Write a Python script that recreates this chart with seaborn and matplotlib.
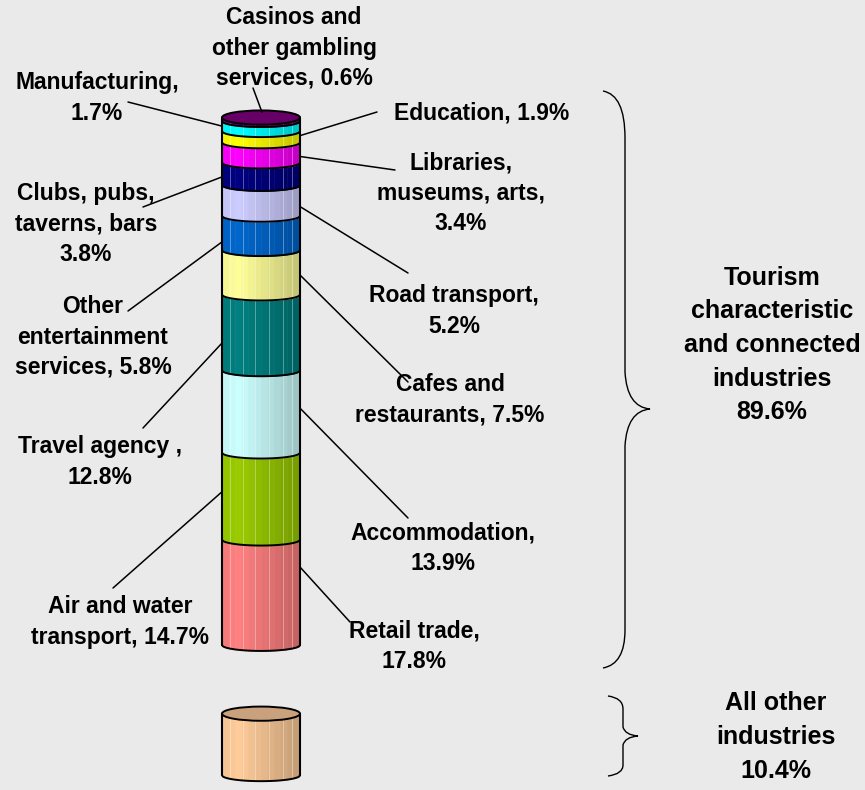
import numpy as np
import matplotlib
matplotlib.use("Agg")
import matplotlib.pyplot as plt
import matplotlib.colors as mcolors
from matplotlib.patches import Ellipse, ConnectionPatch, PathPatch
from matplotlib.path import Path
import seaborn as sns

# data, bottom of the column to the top
industries = ["Retail trade", "Air and water transport", "Accommodation", "Travel agency",
              "Cafes and restaurants", "Other entertainment services", "Road transport",
              "Clubs, pubs, taverns, bars", "Libraries, museums, arts", "Education",
              "Manufacturing", "Casinos and other gambling services"]
shares = [17.8, 14.7, 13.9, 12.8, 7.5, 5.8, 5.2, 3.8, 3.4, 1.9, 1.7, 0.6]
labels = ["Retail trade,\n17.8%", "Air and water\ntransport, 14.7%", "Accommodation,\n13.9%",
          "Travel agency ,\n12.8%", "Cafes and\nrestaurants, 7.5%",
          "Other\nentertainment\nservices, 5.8%", "Road transport,\n5.2%",
          "Clubs, pubs,\ntaverns, bars\n3.8%", "Libraries,\nmuseums, arts,\n3.4%",
          "Education, 1.9%", "Manufacturing,\n1.7%", "Casinos and\nother gambling\nservices, 0.6%"]
colors = ["#FF8080", "#99CC00", "#CCFFFF", "#008080", "#FFFF99", "#0066CC",
          "#CCCCFF", "#000080", "#FF00FF", "#FFFF00", "#00FFFF", "#800080"]
tourism_total = 89.6
other_share = 10.4
other_color = "#FFCC99"
group_labels = ["Tourism\ncharacteristic\nand connected\nindustries\n%.1f%%" % tourism_total,
                "All other\nindustries\n%.1f%%" % other_share]

# layout (pixels from top-left) for labels and leader lines
label_xy = [(414, 646), (120, 622), (443, 548), (100, 462), (450, 400), (93, 337),
            (454, 311), (86, 224), (461, 193), (482, 113), (97, 98), (294, 48)]
line_start = [(350, 622), (113, 588), (408, 518), (143, 428), (408, 382), (128, 311),
              (408, 273), (143, 207), (395, 170), (377, 112), (128, 102), (253, 88)]
attach_frac = [0.74, 0.55, 0.54, 0.36, 0.44, 0.24, 0.3, 0.36, 0.3, 0.6, 0.5, None]
attach_side = [1, -1, 1, -1, 1, -1, 1, -1, 1, 1, -1, 0]

W, H = 865, 790
XC, R = 261, 39          # column centre and radius (x in pixels)
DEPTH = 1.0              # ellipse half-height in % units
OTHER_BASE = -22.0

sns.set_theme(style="white", rc={"figure.facecolor": "#EAEAEA", "axes.facecolor": "#EAEAEA",
                                 "text.color": "black"})
plt.rcParams["font.family"] = ["Liberation Sans", "DejaVu Sans"]

fig = plt.figure(figsize=(W / 100, H / 100), dpi=100)
ax = fig.add_axes([0, 0, 1, 1])
ax.set_xlim(0, W)
ax.set_ylim((645 - H) / 5.92, 645 / 5.92)
ax.axis("off")

lay = fig.add_axes([0, 0, 1, 1], facecolor="none")
lay.set_xlim(0, W)
lay.set_ylim(H, 0)
lay.axis("off")


def arc(xs, level):
    return level - DEPTH * np.sqrt(np.clip(1 - ((xs - XC) / R) ** 2, 0, None))


def segment(lo, hi, color, n=12):
    edges = np.linspace(XC - R, XC + R, n + 1)
    base = np.array(mcolors.to_rgb(color))
    for i in range(n):
        xs = np.linspace(edges[i], edges[i + 1], 8)
        t = (i + 0.5) / n
        f = np.interp(t, [0, 0.2, 1], [0.95, 1.0, 0.76])
        c = np.clip(base * f, 0, 1)
        ax.fill_between(xs, arc(xs, lo), arc(xs, hi), color=c, lw=0.4, zorder=2)


def cylinder(base, values, cols, cap_color):
    tops = base + np.cumsum(values)
    bots = tops - np.array(values)
    for lo, hi, c in zip(bots, tops, cols):
        segment(lo, hi, c)
    xs = np.linspace(XC - R, XC + R, 100)
    for fx in [0.1, 0.27, 0.42, 0.6, 0.78, 0.9]:
        x = XC - R + 2 * R * fx
        ax.plot([x, x], [arc(np.array([x]), base)[0], tops[-1]], color="white",
                alpha=0.35, lw=0.7, zorder=2.5)
    for lvl in np.concatenate([[base], tops[:-1]]):
        ax.plot(xs, arc(xs, lvl), color="black", lw=1.4, zorder=3)
    ax.plot([XC - R, XC - R], [base, tops[-1]], color="black", lw=1.5, zorder=3)
    ax.plot([XC + R, XC + R], [base, tops[-1]], color="black", lw=1.5, zorder=3)
    ax.add_patch(Ellipse((XC, tops[-1]), 2 * R, 2.4 * DEPTH, facecolor=cap_color,
                         edgecolor="black", lw=1.4, zorder=4))
    return bots, tops


bots, tops = cylinder(0.0, shares, colors, "#660066")
cylinder(OTHER_BASE, [other_share], [other_color], "#C9A27D")

# labels and leader lines
for i, lab in enumerate(labels):
    tx, ty = label_xy[i]
    lay.text(tx, ty, lab, ha="center", va="center", fontsize=16.5, fontweight="bold",
             color="black", linespacing=1.4, zorder=6)
    if attach_side[i] == 0:
        end = (XC + 1, tops[-1] + 0.9)
    else:
        end = (XC + attach_side[i] * R, bots[i] + attach_frac[i] * shares[i])
    con = ConnectionPatch(xyA=line_start[i], coordsA=lay.transData, xyB=end,
                          coordsB=ax.transData, color="black", lw=1.1, zorder=5)
    fig.add_artist(con)

# braces
big = [(603, 91), (625, 95), (625, 138), (625, 372), (627, 407), (650, 409),
       (627, 411), (625, 446), (625, 630), (625, 664), (603, 668)]
small = [(608, 696), (623, 698), (623, 709), (623, 727), (625, 735), (638, 736),
         (625, 737), (623, 745), (623, 765), (623, 774), (608, 776)]
codes = [Path.MOVETO, Path.CURVE3, Path.CURVE3, Path.LINETO, Path.CURVE3, Path.CURVE3,
         Path.CURVE3, Path.CURVE3, Path.LINETO, Path.CURVE3, Path.CURVE3]
for pts in (big, small):
    lay.add_patch(PathPatch(Path(pts, codes), facecolor="none", edgecolor="black", lw=1.0))

lay.text(772, 345, group_labels[0], ha="center", va="center", fontsize=18,
         fontweight="bold", color="black", linespacing=1.5)
lay.text(776, 737, group_labels[1], ha="center", va="center", fontsize=18,
         fontweight="bold", color="black", linespacing=1.55)

fig.savefig("out.png", dpi=100, facecolor=fig.get_facecolor())
